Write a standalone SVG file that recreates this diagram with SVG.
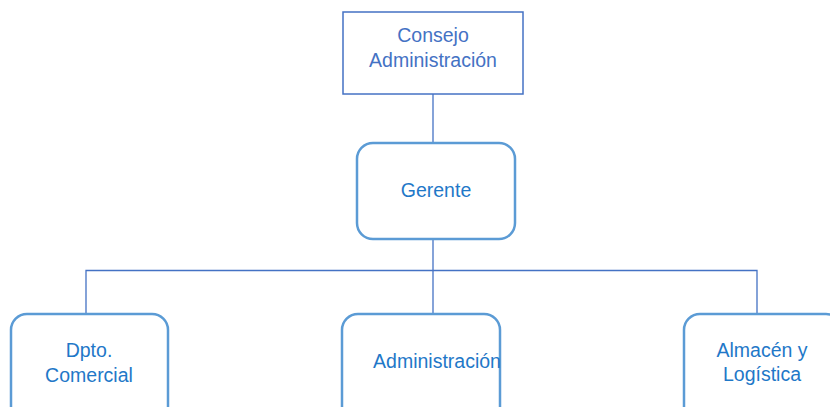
<svg xmlns="http://www.w3.org/2000/svg" width="830" height="407" viewBox="0 0 830 407">
<style>
.t{font-family:"Liberation Sans",Arial,sans-serif;font-size:19.5px;text-anchor:middle}
.t1{fill:#4472C4}
.t2{fill:#1F78C8}
.sq{fill:#fff;stroke:#4472C4;stroke-width:1.5}
.rr{fill:#fff;stroke:#5B9BD5;stroke-width:2.5}
.c{fill:none;stroke:#4472C4;stroke-width:1.3}
</style>
<rect width="830" height="407" fill="#fff"/>
<g id="connectors">
<line class="c" x1="433" y1="94" x2="433" y2="143"/>
<line class="c" x1="433" y1="239" x2="433" y2="314"/>
<polyline class="c" points="86,314 86,270.5 757,270.5 757,314"/>
</g>
<g id="consejo">
<rect class="sq" x="343" y="12" width="180" height="82"/>
<text class="t t1" x="433" y="42">Consejo</text>
<text class="t t1" x="433" y="67">Administración</text>
</g>
<g id="gerente">
<rect class="rr" x="357" y="143" width="158" height="96" rx="16"/>
<text class="t t2" x="436" y="197">Gerente</text>
</g>
<g id="comercial">
<rect class="rr" x="11" y="314" width="157" height="120" rx="16"/>
<text class="t t2" x="89" y="357">Dpto.</text>
<text class="t t2" x="89" y="382">Comercial</text>
</g>
<g id="administracion">
<rect class="rr" x="342" y="314" width="158" height="120" rx="16"/>
<text class="t t2" x="437" y="368">Administración</text>
</g>
<g id="almacen">
<rect class="rr" x="684" y="314" width="158" height="120" rx="16"/>
<text class="t t2" x="762" y="357">Almacén y</text>
<text class="t t2" x="762" y="381">Logística</text>
</g>
</svg>
